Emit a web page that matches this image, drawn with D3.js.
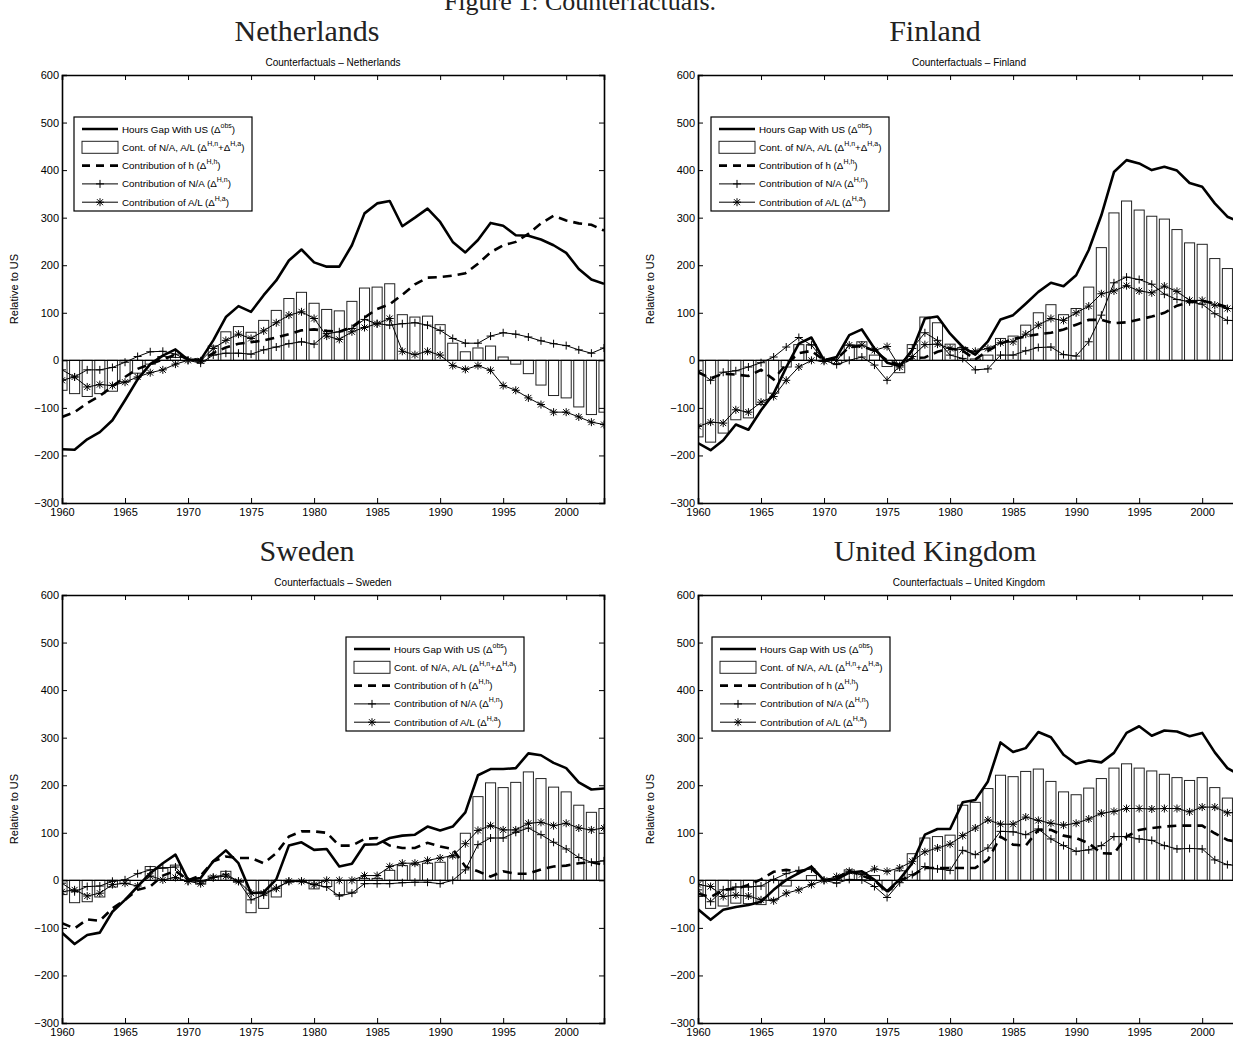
<!DOCTYPE html>
<html>
<head>
<meta charset="utf-8">
<script src="https://cdn.jsdelivr.net/npm/d3@7"></script>
<style>
  body { margin: 0; background: #fff; }
  svg { display: block; }
</style>
</head>
<body>
<svg id="fig" width="1233" height="1038"></svg>
<script>
// ---- categories and ticks ----
const years = [1960,1961,1962,1963,1964,1965,1966,1967,1968,1969,
               1970,1971,1972,1973,1974,1975,1976,1977,1978,1979,
               1980,1981,1982,1983,1984,1985,1986,1987,1988,1989,
               1990,1991,1992,1993,1994,1995,1996,1997,1998,1999,
               2000,2001,2002,2003];
const yTickValues = [-300,-200,-100,0,100,200,300,400,500,600];
const xTickValues = [1960,1965,1970,1975,1980,1985,1990,1995,2000];

// ---- Netherlands ----
const nlGap   = [-187,-188,-166,-151,-126,-84,-40,-8,10,23,1,1,42,91,114,102,137,168,210,233,206,197,197,242,309,330,335,282,300,319,291,249,227,253,289,283,263,262,254,242,226,192,170,161];
const nlBars  = [-63,-70,-76,-70,-65,-45,-27,-8,8,6,0,-2,30,60,71,59,84,105,130,143,120,107,104,124,152,154,161,96,91,93,75,36,18,26,30,7,-8,-28,-52,-74,-79,-98,-114,-109];
const nlHours = [-119,-109,-90,-75,-55,-35,-18,-8,2,12,4,0,15,27,35,38,42,48,55,63,65,62,60,70,90,108,118,138,160,174,175,178,183,203,227,242,249,266,288,304,294,288,285,273];
const nlNA    = [-20,-35,-20,-20,-15,-4,8,18,19,13,0,-6,11,15,15,13,22,28,35,39,34,56,60,67,86,77,74,77,79,74,63,46,36,36,51,58,55,49,41,35,31,22,15,26];
const nlAL    = [-42,-35,-56,-51,-53,-46,-35,-26,-20,-8,0,-1,25,42,55,46,62,79,95,102,88,51,44,60,69,77,88,19,12,19,11,-11,-19,-11,-21,-53,-63,-79,-93,-109,-109,-119,-130,-135];

// ---- Finland ----
const fiGap   = [-174,-189,-168,-135,-146,-105,-70,-15,35,48,0,7,53,65,25,-5,-12,21,88,92,56,28,12,40,86,95,119,144,163,156,179,232,305,396,421,414,400,407,399,373,365,330,302,291];
const fiBars  = [-161,-172,-153,-125,-121,-93,-69,-14,33,33,-2,-7,32,39,11,-13,-26,33,91,79,34,27,3,11,46,51,74,100,117,96,109,154,237,310,335,316,303,297,275,247,244,214,193,191];
const fiHours = [-25,-38,-28,-30,-33,-20,-40,-8,15,20,0,3,28,30,20,0,-10,5,6,18,25,20,2,20,35,45,50,55,58,65,75,85,85,78,80,86,92,100,115,122,125,120,112,110];
const fiNA    = [-21,-42,-25,-22,-14,-5,7,28,48,32,0,-9,0,7,-10,-42,-11,25,58,42,11,4,-20,-18,11,11,20,27,28,12,9,39,95,163,175,170,160,139,128,123,118,98,84,83];
const fiAL    = [-139,-130,-132,-104,-109,-88,-76,-42,-14,0,-2,0,32,32,21,29,-14,8,33,34,25,23,19,25,37,39,55,74,88,84,100,114,140,146,157,146,142,156,145,126,126,116,109,108];

// ---- Sweden ----
const seGap   = [-110,-134,-115,-110,-66,-41,-13,15,36,54,1,5,40,63,36,-27,-25,2,73,80,64,66,29,35,75,76,89,94,96,113,105,113,143,221,234,234,236,267,263,247,236,206,191,193];
const seBars  = [-30,-47,-45,-35,-14,-7,0,29,26,32,0,-8,9,19,-4,-68,-59,-35,-4,-3,-18,-13,-30,-25,4,4,21,31,33,36,38,49,99,176,205,195,206,228,214,196,186,158,143,151];
const seHours = [-90,-101,-82,-85,-59,-41,-20,-13,10,20,0,10,40,50,47,47,36,57,92,103,103,100,73,73,87,89,73,68,68,79,71,66,29,19,8,19,14,14,23,29,31,36,38,33];
const seNA    = [-6,-24,-13,-12,-2,1,14,22,26,28,-2,-2,6,13,-2,-41,-31,-16,-2,-2,-9,-14,-33,-27,-7,-7,-7,-5,-4,-4,-7,0,22,75,89,89,101,110,96,80,66,48,38,41];
const seAL    = [-24,-20,-33,-27,-9,-6,-12,9,1,6,-2,-7,6,9,-2,-27,-27,-17,-2,-2,-9,0,0,0,10,10,29,36,36,42,47,52,77,105,115,106,106,120,122,115,120,110,106,110];

// ---- United Kingdom ----
const ukGap   = [-61,-83,-62,-56,-52,-45,-20,1,15,29,0,2,16,19,1,-23,2,36,96,108,108,164,169,208,290,270,278,312,301,264,245,252,248,268,310,324,304,315,313,303,310,269,236,221];
const ukBars  = [-34,-59,-54,-48,-49,-51,-40,-12,0,10,0,3,22,15,10,-20,20,56,89,92,95,158,164,193,221,218,229,234,208,186,180,194,214,236,245,236,230,223,216,210,216,195,173,173];
const ukHours = [-28,-35,-20,-18,-10,2,18,22,18,25,0,5,20,10,0,-25,0,10,26,26,26,26,26,43,92,75,73,106,106,94,89,78,57,56,92,106,110,113,115,115,115,99,85,80];
const ukNA    = [-20,-45,-20,-14,-14,-12,2,14,21,24,0,-6,2,1,-13,-36,-5,12,29,24,21,63,54,68,103,102,96,108,87,73,61,64,73,92,92,87,84,73,66,67,66,43,33,30];
const ukAL    = [-9,-13,-34,-31,-33,-41,-43,-27,-20,-9,0,8,19,12,24,19,26,40,60,68,76,94,110,127,118,118,133,126,120,116,120,129,141,145,151,151,150,151,151,144,154,154,142,143];

// ---- legend entries (text parts: [text, isSuperscript]) ----
const legendEntries = [
  { kind: "gap",   parts: [["Hours Gap With US (\u0394", false], ["obs", true], [")", false]] },
  { kind: "bar",   parts: [["Cont. of N/A, A/L (\u0394", false], ["H,n", true], ["+\u0394", false], ["H,a", true], [")", false]] },
  { kind: "hours", parts: [["Contribution of h (\u0394", false], ["H,h", true], [")", false]] },
  { kind: "na",    parts: [["Contribution of N/A (\u0394", false], ["H,n", true], [")", false]] },
  { kind: "al",    parts: [["Contribution of A/L (\u0394", false], ["H,a", true], [")", false]] }
];

const panels = [
  { id: "nl", heading: "Netherlands",    title: "Counterfactuals \u2013 Netherlands",    left: 62,  top: 75,  headX: 307, headY: 41,
    gap: nlGap, bars: nlBars, hours: nlHours, na: nlNA, al: nlAL, legend: [12, 42] },
  { id: "fi", heading: "Finland",        title: "Counterfactuals \u2013 Finland",        left: 698, top: 75,  headX: 935, headY: 41,
    gap: fiGap, bars: fiBars, hours: fiHours, na: fiNA, al: fiAL, legend: [13, 42] },
  { id: "se", heading: "Sweden",         title: "Counterfactuals \u2013 Sweden",         left: 62,  top: 595, headX: 307, headY: 561,
    gap: seGap, bars: seBars, hours: seHours, na: seNA, al: seAL, legend: [284, 42] },
  { id: "uk", heading: "United Kingdom", title: "Counterfactuals \u2013 United Kingdom", left: 698, top: 595, headX: 935, headY: 561,
    gap: ukGap, bars: ukBars, hours: ukHours, na: ukNA, al: ukAL, legend: [14, 42] }
];

const W = 542, H = 428;
const sans = "'Liberation Sans', Arial, Helvetica, sans-serif";
const serif = "'Liberation Serif', 'DejaVu Serif', serif";

const svg = d3.select("#fig");

// document caption, partly above the top edge
svg.append("text")
  .attr("x", 580).attr("y", 10)
  .attr("text-anchor", "middle")
  .attr("font-family", serif).attr("font-size", 26)
  .attr("fill", "#222")
  .text("Figure 1: Counterfactuals.");

const x = d3.scaleLinear().domain([1960, 2003]).range([0, W]);
const y = d3.scaleLinear().domain([-300, 600]).range([H, 0]);
const barW = 0.8 * (x(1961) - x(1960));

const plusPath = "M-4,0H4M0,-4V4";
const starPath = "M-4,0H4M0,-4V4M-3,-3L3,3M-3,3L3,-3";

function drawMarkers(g, vals, path) {
  g.selectAll(null).data(vals).join("path")
    .attr("transform", (d, i) => `translate(${x(years[i])},${y(d)})`)
    .attr("d", path)
    .attr("stroke", "#000").attr("stroke-width", 1).attr("fill", "none");
}

panels.forEach(p => {
  // subfigure heading
  svg.append("text")
    .attr("x", p.headX).attr("y", p.headY)
    .attr("text-anchor", "middle")
    .attr("font-family", serif).attr("font-size", 30)
    .attr("fill", "#222")
    .text(p.heading);

  const g = svg.append("g").attr("transform", `translate(${p.left},${p.top})`);

  // axes title
  g.append("text")
    .attr("x", W / 2).attr("y", -9)
    .attr("text-anchor", "middle")
    .attr("font-family", sans).attr("font-size", 10)
    .text(p.title);

  // y label
  g.append("text")
    .attr("transform", `translate(-44,${H / 2}) rotate(-90)`)
    .attr("text-anchor", "middle")
    .attr("font-family", sans).attr("font-size", 11)
    .text("Relative to US");

  const clipId = "clip-" + p.id;
  g.append("clipPath").attr("id", clipId)
    .append("rect").attr("x", 0).attr("y", 0).attr("width", W).attr("height", H);

  const plot = g.append("g").attr("clip-path", `url(#${clipId})`);

  // bars: contribution of N/A and A/L
  plot.selectAll("rect.bar").data(p.bars).join("rect")
    .attr("class", "bar")
    .attr("x", (d, i) => x(years[i]) - barW / 2)
    .attr("y", d => y(Math.max(0, d)))
    .attr("width", barW)
    .attr("height", d => Math.abs(y(d) - y(0)))
    .attr("fill", "#fff").attr("stroke", "#222").attr("stroke-width", 1);

  // bar baseline
  plot.append("line")
    .attr("x1", 0).attr("x2", W).attr("y1", y(0)).attr("y2", y(0))
    .attr("stroke", "#000").attr("stroke-width", 1.2);

  const line = d3.line().x((d, i) => x(years[i])).y(d => y(d));

  // contribution of A/L
  plot.append("path").attr("d", line(p.al))
    .attr("fill", "none").attr("stroke", "#000").attr("stroke-width", 1);
  drawMarkers(plot.append("g"), p.al, starPath);

  // contribution of N/A
  plot.append("path").attr("d", line(p.na))
    .attr("fill", "none").attr("stroke", "#000").attr("stroke-width", 1);
  drawMarkers(plot.append("g"), p.na, plusPath);

  // contribution of h
  plot.append("path").attr("d", line(p.hours))
    .attr("fill", "none").attr("stroke", "#000").attr("stroke-width", 2.6)
    .attr("stroke-dasharray", "9,6");

  // observed hours gap
  plot.append("path").attr("d", line(p.gap))
    .attr("fill", "none").attr("stroke", "#000").attr("stroke-width", 2.6)
    .attr("stroke-linejoin", "round");

  // axes: ticks point inward on all four sides
  const axL = g.append("g").call(d3.axisLeft(y).tickValues(yTickValues).tickSize(-5).tickPadding(8));
  const axR = g.append("g").attr("transform", `translate(${W},0)`)
    .call(d3.axisRight(y).tickValues(yTickValues).tickSize(-5).tickFormat(""));
  const axB = g.append("g").attr("transform", `translate(0,${H})`)
    .call(d3.axisBottom(x).tickValues(xTickValues).tickSize(-5).tickPadding(8).tickFormat(d3.format("d")));
  const axT = g.append("g")
    .call(d3.axisTop(x).tickValues(xTickValues).tickSize(-5).tickFormat(""));
  [axL, axR, axB, axT].forEach(a => {
    a.select(".domain").attr("stroke", "#000").attr("stroke-width", 1.6);
    a.selectAll(".tick line").attr("stroke", "#000").attr("stroke-width", 1);
    a.selectAll(".tick text").attr("font-family", sans).attr("font-size", 11).attr("fill", "#000");
  });
  axL.selectAll(".tick text").attr("x", -3);
  axB.selectAll(".tick text").attr("y", 5);
  axB.selectAll(".tick line").filter(d => d === 1960).remove();
  axT.selectAll(".tick line").filter(d => d === 1960).remove();
  axL.selectAll(".tick line").filter(d => d === -300 || d === 600).remove();
  axR.selectAll(".tick line").filter(d => d === -300 || d === 600).remove();

  // legend
  const lg = g.append("g").attr("transform", `translate(${p.legend[0]},${p.legend[1]})`);
  lg.append("rect").attr("width", 178).attr("height", 94)
    .attr("fill", "#fff").attr("stroke", "#000").attr("stroke-width", 1.2);
  legendEntries.forEach((e, k) => {
    const cy = 12 + k * 18.3;
    const row = lg.append("g").attr("transform", `translate(0,${cy})`);
    if (e.kind === "bar") {
      row.append("rect").attr("x", 8).attr("y", -6).attr("width", 36).attr("height", 12)
        .attr("fill", "#fff").attr("stroke", "#222").attr("stroke-width", 1);
    } else {
      const ln = row.append("line").attr("x1", 8).attr("x2", 44).attr("y1", 0).attr("y2", 0)
        .attr("stroke", "#000");
      if (e.kind === "gap") ln.attr("stroke-width", 2.6);
      if (e.kind === "hours") ln.attr("stroke-width", 2.6).attr("stroke-dasharray", "8,6");
      if (e.kind === "na" || e.kind === "al") {
        ln.attr("stroke-width", 1);
        row.append("path").attr("transform", "translate(26,0)")
          .attr("d", e.kind === "na" ? plusPath : starPath)
          .attr("stroke", "#000").attr("fill", "none");
      }
    }
    const t = row.append("text").attr("x", 48).attr("y", 3.5)
      .attr("font-family", sans).attr("font-size", 9.8);
    let raised = false;
    e.parts.forEach(([txt, sup]) => {
      const ts = t.append("tspan").text(txt);
      if (sup && !raised) { ts.attr("dy", -5).attr("font-size", 7); raised = true; }
      else if (!sup && raised) { ts.attr("dy", 5); raised = false; }
      else if (sup) { ts.attr("font-size", 7); }
    });
  });
});
</script>
</body>
</html>
